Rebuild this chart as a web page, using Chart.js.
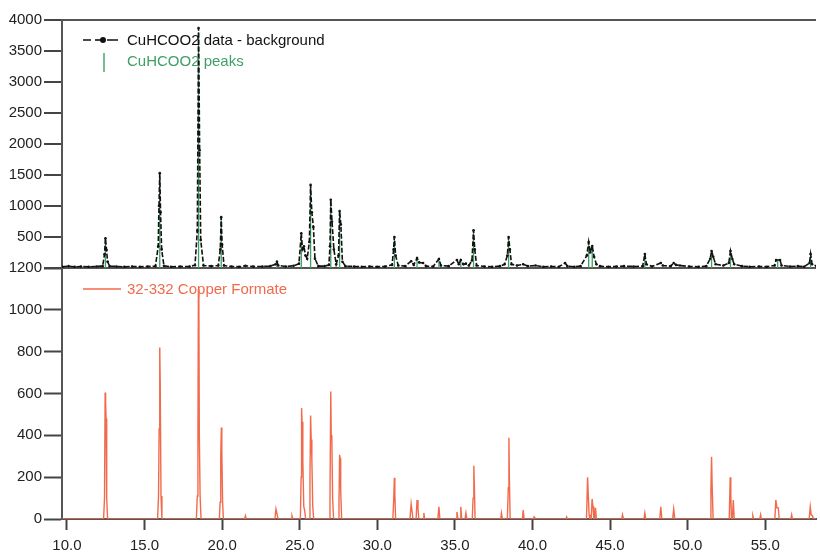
<!DOCTYPE html>
<html><head><meta charset="utf-8">
<script src="https://cdn.jsdelivr.net/npm/chart.js@4/dist/chart.umd.min.js"></script>
<style>html,body{margin:0;padding:0;background:#fff;}canvas{display:block;}</style>
</head><body>
<canvas id="c" width="820" height="554"></canvas>
<script>
// ---- data ----
const seriesNames = ['CuHCOO2 data - background', 'CuHCOO2 peaks', '32-332 Copper Formate'];
const xTickValues = [10, 15, 20, 25, 30, 35, 40, 45, 50, 55];
const topTickStep = 500;
const bottomTickStep = 200;

// measured pattern (top panel), 2-theta and counts
const dataTwoTheta = [9.7,10.1,10.5,10.9,11.4,11.9,12.3,12.42,12.48,12.55,12.62,12.75,13.2,13.7,14.2,14.7,15.2,15.7,15.88,15.93,15.98,16.03,16.1,16.25,16.7,17.3,17.9,18.25,18.4,18.48,18.55,18.62,18.8,19.3,19.75,19.88,19.94,20.0,20.12,20.6,21.1,21.5,22.0,22.6,23.1,23.45,23.53,23.62,24.1,24.6,24.95,25.1,25.18,25.27,25.37,25.48,25.62,25.7,25.78,25.88,25.98,26.2,26.6,26.88,26.95,27.0,27.08,27.2,27.35,27.5,27.57,27.65,27.75,27.95,28.5,29.0,29.5,30.0,30.5,30.95,31.05,31.1,31.18,31.35,31.8,32.18,32.35,32.56,32.7,32.95,33.15,33.6,33.97,34.1,34.6,35.13,35.25,35.38,35.55,35.71,35.9,36.1,36.2,36.28,36.4,36.9,37.4,37.9,38.2,38.38,38.46,38.54,38.65,39.0,39.4,39.7,40.2,40.7,41.2,41.7,42.1,42.25,42.7,43.1,43.5,43.62,43.72,43.85,43.97,44.12,44.35,44.9,45.4,45.9,46.5,47.1,47.24,47.34,47.7,48.27,48.4,48.9,49.1,49.25,49.5,50.1,50.7,51.2,51.45,51.54,51.65,51.8,52.3,52.65,52.76,52.88,53.0,53.5,54.0,54.6,55.1,55.6,55.7,55.95,56.05,56.6,57.1,57.5,57.85,57.92,58.02,58.3];
const dataCounts   = [20,30,20,25,20,25,30,220,480,290,100,30,25,20,25,20,25,30,350,1000,1530,900,300,35,20,25,25,45,600,3870,1900,450,40,30,40,300,820,380,40,25,20,35,25,25,30,60,100,40,25,35,70,560,300,350,200,150,420,1340,900,660,150,30,30,50,350,1100,750,300,60,200,920,700,100,30,25,20,25,20,25,50,300,500,200,40,30,110,50,160,90,80,30,25,145,40,30,130,60,130,60,70,40,120,610,300,40,25,20,30,60,200,500,300,60,40,60,30,40,20,25,20,80,30,20,30,200,420,250,355,180,60,30,20,25,30,25,30,225,60,25,80,40,30,80,50,40,25,20,30,150,275,180,60,40,80,275,145,60,30,20,25,20,40,130,130,40,25,30,20,80,225,60,30];

// fitted peak positions (green sticks)
const peakTwoTheta = [12.48,15.98,18.48,19.94,23.53,25.1,25.7,27.0,27.57,31.1,32.56,33.97,35.38,36.2,38.46,43.62,43.85,47.24,51.54,52.76,55.8,57.92];
const peakCounts   = [470,1480,3800,800,90,540,1300,1060,900,480,150,140,120,590,480,400,340,210,260,260,120,210];

// reference pattern 32-332 (bottom panel)
const refTwoTheta = [9.7,12.36,12.42,12.46,12.49,12.52,12.56,12.62,15.84,15.9,15.94,15.98,16.01,16.06,16.12,18.34,18.4,18.44,18.47,18.5,18.53,18.58,18.64,19.82,19.87,19.91,19.95,19.98,20.03,20.08,21.45,21.5,21.55,23.4,23.47,23.55,23.6,24.45,24.5,24.56,25.04,25.09,25.12,25.15,25.2,25.26,25.32,25.38,25.6,25.66,25.7,25.74,25.78,25.84,25.9,26.9,26.95,27.0,27.03,27.07,27.12,27.18,27.48,27.53,27.57,27.6,27.64,27.7,31.0,31.05,31.1,31.13,31.18,32.1,32.18,32.25,32.3,32.5,32.56,32.62,32.68,32.95,33.0,33.05,33.9,33.97,34.03,35.08,35.13,35.2,35.33,35.38,35.44,35.65,35.71,35.77,36.12,36.17,36.22,36.25,36.3,37.95,38.0,38.06,38.38,38.44,38.48,38.51,38.56,39.35,39.4,39.46,40.05,40.1,40.15,42.15,42.2,42.25,43.48,43.55,43.6,43.65,43.7,43.78,43.84,43.9,43.95,44.0,44.06,44.12,45.75,45.8,45.86,47.18,47.24,47.3,48.2,48.27,48.34,49.03,49.1,49.17,51.45,51.5,51.54,51.58,51.64,52.68,52.74,52.78,52.82,52.88,52.94,53.0,54.15,54.2,54.25,54.65,54.7,54.75,55.62,55.68,55.75,55.84,55.9,56.65,56.7,56.75,57.83,57.9,57.96,58.05,58.1,58.3];
const refIntensity = [0,0,100,605,560,480,100,0,0,110,430,820,640,110,0,0,110,400,1100,1060,400,110,0,0,80,300,437,320,80,0,0,15,0,0,48,20,0,0,15,0,0,200,530,465,280,60,40,0,0,200,495,380,290,60,0,0,100,610,400,380,100,0,0,80,307,290,140,0,0,80,197,120,0,0,72,30,0,0,91,50,0,0,29,0,0,58,0,0,34,0,0,58,0,0,29,0,0,100,254,170,0,0,29,0,0,150,389,200,0,0,43,0,0,10,0,0,10,0,0,200,105,20,0,0,96,60,0,0,53,0,0,20,0,0,29,0,0,58,0,0,48,0,0,150,298,154,0,0,200,120,0,0,91,0,0,15,0,0,20,0,0,91,53,53,0,0,20,0,0,58,20,15,0,0];

// ---- build tables for the library ----
const dataPts = dataTwoTheta.map((x, i) => ({x, y: dataCounts[i]}));
const refPts = refTwoTheta.map((x, i) => ({x, y: refIntensity[i]}));
const peakPts = [];
peakTwoTheta.forEach((x, i) => { peakPts.push({x, y: 0}, {x, y: peakCounts[i]}, {x, y: null}); });

const FONT = "'Liberation Sans', Arial, sans-serif";
const COL_BLACK = '#111111', COL_GREEN = '#3f9e66', COL_RED = '#f26a4c';

const inlineLegend = {
  id: 'inlineLegend',
  afterDatasetsDraw(chart) {
    const c = chart.ctx, a = chart.chartArea, yb = chart.scales.yBot;
    c.save();
    c.font = '15px ' + FONT;
    c.textBaseline = 'middle';
    c.textAlign = 'left';
    // black entry
    let y = a.top + 20;
    c.strokeStyle = COL_BLACK; c.lineWidth = 1.6;
    c.beginPath(); c.moveTo(a.left + 21, y); c.lineTo(a.left + 29, y);
    c.moveTo(a.left + 45, y); c.lineTo(a.left + 56, y); c.stroke();
    c.beginPath(); c.moveTo(a.left + 33, y); c.lineTo(a.left + 42, y); c.stroke();
    c.fillStyle = COL_BLACK; c.beginPath(); c.arc(a.left + 41, y, 3, 0, Math.PI * 2); c.fill();
    c.fillText(seriesNames[0], a.left + 65, y + 1);
    // green entry
    y = a.top + 41;
    c.strokeStyle = COL_GREEN; c.lineWidth = 1.4;
    c.beginPath(); c.moveTo(a.left + 42, y - 8); c.lineTo(a.left + 42, y + 11); c.stroke();
    c.fillStyle = COL_GREEN;
    c.fillText(seriesNames[1], a.left + 65, y + 1);
    // red entry
    y = yb.top + 21;
    c.strokeStyle = COL_RED; c.lineWidth = 1.4;
    c.beginPath(); c.moveTo(a.left + 21, y); c.lineTo(a.left + 59, y); c.stroke();
    c.fillStyle = COL_RED;
    c.fillText(seriesNames[2], a.left + 65, y + 1);
    c.restore();
  }
};

const yCommon = {
  type: 'linear', position: 'left', stack: 'panels',
  afterFit: s => { s.width = 62; },
  border: {display: true, color: '#555', width: 2},
  ticks: {color: '#222', font: {family: FONT, size: 15}, padding: 2, autoSkip: false}
};

new Chart(document.getElementById('c'), {
  type: 'line',
  data: {
    datasets: [
      {label: seriesNames[1], data: peakPts, yAxisID: 'yTop', xAxisID: 'x', borderColor: COL_GREEN, borderWidth: 1.3, pointRadius: 0, spanGaps: false, order: 2},
      {label: seriesNames[0], data: dataPts, yAxisID: 'yTop', xAxisID: 'x', borderColor: COL_BLACK, borderWidth: 1.6, borderDash: [5, 2], pointRadius: 1.3, pointBorderWidth: 0, pointBackgroundColor: COL_BLACK, order: 1},
      {label: seriesNames[2], data: refPts, yAxisID: 'yBot', xAxisID: 'x', borderColor: COL_RED, borderWidth: 1.4, pointRadius: 0, order: 3}
    ]
  },
  options: {
    responsive: false, animation: false,
    layout: {padding: {top: 20, right: 0, bottom: 0, left: 0}},
    plugins: {legend: {display: false}, tooltip: {enabled: false}},
    scales: {
      x: {
        type: 'linear', position: 'bottom', min: 9.68, max: 58.27,
        afterBuildTicks: s => { s.ticks = xTickValues.map(v => ({value: v})); },
        afterFit: s => { s.height = 35; },
        border: {display: true, color: '#555', width: 2},
        grid: {drawOnChartArea: false, tickLength: 11, tickColor: '#444', tickWidth: 2},
        ticks: {color: '#222', font: {family: FONT, size: 15}, padding: 7, maxRotation: 0, autoSkip: false, callback: v => Number(v).toFixed(1)}
      },
      yBot: Object.assign({}, yCommon, {
        stackWeight: 251, min: 0, max: 1200,
        ticks: Object.assign({}, yCommon.ticks, {stepSize: bottomTickStep, callback: v => String(v)}),
        grid: {drawOnChartArea: false, tickLength: 18, tickColor: '#444', tickWidth: 2}
      }),
      yTop: Object.assign({}, yCommon, {
        stackWeight: 248, min: 0, max: 4000,
        ticks: Object.assign({}, yCommon.ticks, {stepSize: topTickStep, callback: v => v === 0 ? '' : String(v)}),
        grid: {
          drawOnChartArea: true, lineWidth: 2, tickLength: 18, tickColor: '#444', tickWidth: 2,
          color: ctx => (ctx.tick && (ctx.tick.value === 0 || ctx.tick.value === 4000)) ? '#555' : 'rgba(0,0,0,0)'
        }
      })
    }
  },
  plugins: [inlineLegend]
});
</script>
</body></html>
